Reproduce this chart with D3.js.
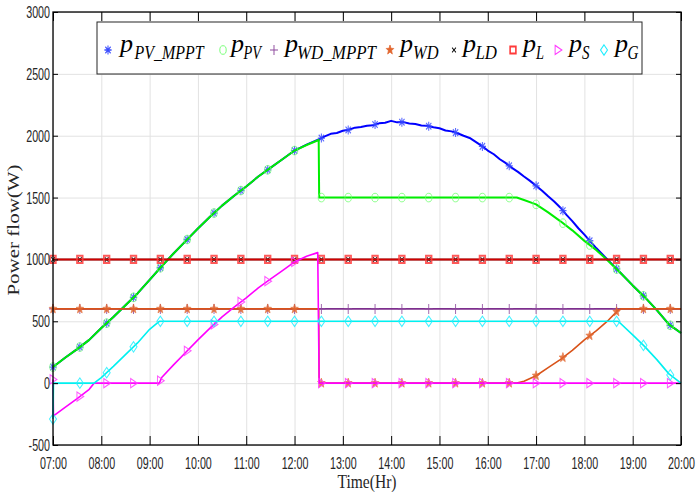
<!DOCTYPE html>
<html><head><meta charset="utf-8">
<script src="https://cdn.jsdelivr.net/npm/d3@7"></script>
<style>
html,body{margin:0;padding:0;background:#fff;}
svg{display:block;}
</style></head>
<body>
<svg id="chart" width="696" height="495"></svg>
<script>
// ---------------- data ----------------
const xTickValues = [7,8,9,10,11,12,13,14,15,16,17,18,19,20];
const xTickLabels = ["07:00","08:00","09:00","10:00","11:00","12:00","13:00","14:00","15:00","16:00","17:00","18:00","19:00","20:00"];
const yTickValues = [-500,0,500,1000,1500,2000,2500,3000];
const yTickLabels = ["-500","0","500","1000","1500","2000","2500","3000"];

// [hour, W]
const pPvMppt = [[7,130],[7.25,205],[7.5,275],[7.75,350],[8,445],[8.25,535],[8.5,630],[8.75,725],[9,835],[9.25,945],[9.5,1050],[9.75,1150],[10,1250],[10.25,1345],[10.5,1435],[10.75,1515],[11,1590],[11.25,1670],[11.5,1740],[11.75,1810],[12,1880],[12.25,1928],[12.5,1970],[12.625,1995],[12.75,2015],[12.875,2022],[13,2040],[13.125,2048],[13.25,2065],[13.375,2070],[13.5,2080],[13.625,2085],[13.75,2100],[13.875,2105],[14,2120],[14.125,2108],[14.25,2110],[14.375,2098],[14.5,2095],[14.625,2082],[14.75,2080],[14.875,2068],[15,2060],[15.125,2042],[15.25,2035],[15.375,2020],[15.5,2000],[15.625,1982],[15.75,1950],[15.875,1918],[16,1880],[16.125,1850],[16.25,1810],[16.375,1778],[16.5,1740],[16.625,1708],[16.75,1670],[16.875,1635],[17,1595],[17.125,1555],[17.25,1510],[17.375,1468],[17.5,1420],[17.625,1362],[17.75,1310],[17.875,1252],[18,1200],[18.25,1090],[18.5,990],[18.75,890],[19,790],[19.25,695],[19.5,590],[19.75,475],[20,405]];
const pPv = [[7,130],[7.25,205],[7.5,275],[7.75,350],[8,445],[8.25,535],[8.5,630],[8.75,725],[9,835],[9.25,945],[9.5,1050],[9.75,1150],[10,1250],[10.25,1345],[10.5,1435],[10.75,1515],[11,1590],[11.25,1670],[11.5,1740],[11.75,1810],[12,1880],[12.25,1925],[12.5,1965],[12.51,1500],[16.6,1500],[16.75,1480],[17,1445],[17.25,1380],[17.5,1310],[17.75,1235],[18,1150],[18.25,1075],[18.5,985],[18.75,890],[19,790],[19.25,695],[19.5,590],[19.75,475],[20,405]];
const pWdMppt = [[7,600],[20,600]];
const pWd = [[7,600],[12.5,600],[12.51,0],[16.6,0],[16.75,15],[17,60],[17.25,125],[17.5,190],[17.75,265],[18,350],[18.25,425],[18.5,510],[18.7,590],[18.75,600],[20,600]];
const pLd = [[7,1000],[20,1000]];
const pL = [[7,1000],[20,1000]];
const pS = [[7,30],[7.01,-265],[7.25,-195],[7.5,-125],[7.75,-50],[7.85,0],[9.2,0],[9.25,45],[9.5,150],[9.75,250],[10,350],[10.25,445],[10.5,535],[10.75,615],[11,690],[11.25,770],[11.5,840],[11.75,910],[12,980],[12.25,1025],[12.48,1055],[12.51,0],[20,0]];
const pG = [[7,-290],[7.01,0],[7.85,0],[8,45],[8.25,135],[8.5,230],[8.75,325],[9,435],[9.2,500],[18.7,500],[19,390],[19.25,295],[19.5,190],[19.75,75],[20,0]];

const legendMain = ["p","p","p","p","p","p","p","p"];
const legendSub = ["PV_MPPT","PV","WD_MPPT","WD","LD","L","S","G"];

// ---------------- layout ----------------
const svg = d3.select("#chart");
const L = 53, R = 681, T = 12, B = 445;
const x = d3.scaleLinear().domain([7,20]).range([L,R]);
const y = d3.scaleLinear().domain([-500,3000]).range([B,T]);
const SQ = 0.8; // horizontal squeeze of glyphs/markers

// grid
svg.append("g").attr("transform",`translate(0,${B})`)
  .call(d3.axisBottom(x).tickValues(xTickValues).tickSize(-(B-T)).tickFormat(""))
  .call(g=>g.select(".domain").remove())
  .call(g=>g.selectAll("line").attr("stroke","#e2e2e2").attr("stroke-width",1));
svg.append("g").attr("transform",`translate(${L},0)`)
  .call(d3.axisLeft(y).tickValues(yTickValues).tickSize(-(R-L)).tickFormat(""))
  .call(g=>g.select(".domain").remove())
  .call(g=>g.selectAll("line").attr("stroke","#e2e2e2").attr("stroke-width",1));

// markers
function starPath(ro, ri){
  let p = "";
  for(let k=0;k<10;k++){
    const r = k%2 ? ri : ro;
    const a = (-90 + k*36) * Math.PI/180;
    p += (k?"L":"M") + (r*Math.cos(a)).toFixed(2) + "," + (r*Math.sin(a)).toFixed(2);
  }
  return p + "Z";
}
const MK = {
  asterisk: "M0,-4.5V4.5M-4.5,0H4.5M-3.3,-3.3L3.3,3.3M-3.3,3.3L3.3,-3.3",
  circle: "M-4,0a4,4.3 0 1,0 8,0a4,4.3 0 1,0 -8,0",
  plus: "M0,-5V5M-5,0H5",
  star: starPath(5,2.1),
  times: "M-2.4,-2.4L2.4,2.4M-2.4,2.4L2.4,-2.4",
  square: "M-3.6,-3.6H3.6V3.6H-3.6Z",
  tri: "M-3.6,-4.6L4.8,0L-3.6,4.6Z",
  diamond: "M0,-5.2L4.4,0L0,5.2L-4.4,0Z"
};

const series = [
  {data:pPvMppt, color:"#0000ff", w:2,   mk:"asterisk", mc:"#3a4cff", mf:"none", mw:1.3},
  {data:pPv,     color:"#00ee00", w:2,   mk:"circle",   mc:"#6cff6c", mf:"none", mw:1},
  {data:pWdMppt, color:"#7e2f8e", w:1.6, mk:"plus",     mc:"#8e4a9e", mf:"none", mw:1.2},
  {data:pWd,     color:"#d95319", w:1.6, mk:"star",     mc:"#e2662e", mf:"#e2662e", mw:0.8},
  {data:pLd,     color:"#000000", w:1.5, mk:"times",    mc:"#000000", mf:"none", mw:1.1},
  {data:pL,      color:"#d00000", w:2,   mk:"square",   mc:"#ff3b3b", mf:"none", mw:2},
  {data:pS,      color:"#ff00ff", w:1.6, mk:"tri",      mc:"#ff3cff", mf:"none", mw:1.2},
  {data:pG,      color:"#00f0f0", w:1.6, mk:"diamond",  mc:"#22eeff", mf:"none", mw:1.2}
];

function valueAt(data, t){
  if(t <= data[0][0]) return data[0][1];
  for(let i=0;i<data.length-1;i++){
    const a=data[i], b=data[i+1];
    if(t>=a[0] && t<=b[0]) return a[1] + (b[1]-a[1])*(t-a[0])/(b[0]-a[0]);
  }
  return data[data.length-1][1];
}
const markerTimes = d3.range(24).map(k => 7 + k*5/9);

const line = d3.line().x(d=>x(d[0])).y(d=>y(d[1]));
const plot = svg.append("g");
series.forEach(s=>{
  const g = plot.append("g");
  g.append("path").attr("d", line(s.data)).attr("fill","none")
    .attr("stroke", s.color).attr("stroke-width", s.w).attr("stroke-linejoin","round");
  g.selectAll("path.mk").data(markerTimes).join("path").attr("class","mk")
    .attr("d", MK[s.mk])
    .attr("transform", t=>`translate(${x(t)},${y(valueAt(s.data,t))}) scale(${SQ},1)`)
    .attr("fill", s.mf).attr("stroke", s.mc).attr("stroke-width", s.mw).attr("opacity",0.85);
});

// axes
const tickCol = "#262626";
const xb = svg.append("g").attr("transform",`translate(0,${B})`)
  .call(d3.axisBottom(x).tickValues(xTickValues).tickSize(-9).tickSizeOuter(0).tickPadding(12)
        .tickFormat((d,i)=>xTickLabels[i]));
const yl = svg.append("g").attr("transform",`translate(${L},0)`)
  .call(d3.axisLeft(y).tickValues(yTickValues).tickSize(-5).tickSizeOuter(0).tickPadding(3)
        .tickFormat((d,i)=>yTickLabels[i]));
svg.append("g").attr("transform",`translate(0,${T})`)
  .call(d3.axisTop(x).tickValues(xTickValues).tickSize(-9).tickSizeOuter(0).tickFormat(""));
svg.append("g").attr("transform",`translate(${R},0)`)
  .call(d3.axisRight(y).tickValues(yTickValues).tickSize(-5).tickSizeOuter(0).tickFormat(""));
svg.selectAll(".domain").remove();
[xb,yl].forEach(g=>g.selectAll("text").attr("font-family","'Liberation Sans',Arial,sans-serif")
   .attr("font-size",17).attr("fill",tickCol));
xb.selectAll("text").attr("transform",`scale(0.63,1)`);
yl.selectAll("text").attr("x",-3/0.63).attr("transform",`scale(0.63,1)`);
svg.append("rect").attr("x",L).attr("y",T).attr("width",R-L).attr("height",B-T)
  .attr("fill","none").attr("stroke","#000").attr("stroke-width",1.3);

// axis titles
svg.append("text").attr("transform",`translate(367,488) scale(0.82,1)`)
  .attr("text-anchor","middle").attr("font-family","'Liberation Serif','Times New Roman',serif")
  .attr("font-size",19).attr("fill",tickCol).text("Time(Hr)");
svg.append("text").attr("transform",`translate(18.5,230) scale(0.78,1) rotate(-90)`)
  .attr("text-anchor","middle").attr("font-family","'Liberation Serif','Times New Roman',serif")
  .attr("font-size",21).attr("fill",tickCol).text("Power flow(W)");

// legend
const lg = svg.append("g");
lg.append("rect").attr("x",97).attr("y",22).attr("width",545).attr("height",52)
  .attr("fill","#fff").attr("stroke","#262626").attr("stroke-width",1);
const legMarkX = [108,223,274,390,454,513,558,604];
const legPX = [120,231,285,400,463,523,569,615];
const legSubX = [134.5,243.5,297,413,475.5,536,582,627.5];
const legSubW = [69,17.5,79,25.5,21.5,8,7.5,11];
series.forEach((s,i)=>{
  lg.append("path").attr("d", MK[s.mk])
    .attr("transform",`translate(${legMarkX[i]},50) scale(${SQ},1)`)
    .attr("fill", s.mf).attr("stroke", s.mc).attr("stroke-width", s.mw);
  lg.append("text").attr("x",legPX[i]).attr("y",51.5)
    .attr("font-family","'Liberation Serif','Times New Roman',serif").attr("font-style","italic")
    .attr("font-size",26).attr("fill","#000").text(legendMain[i]);
  lg.append("text").attr("x",legSubX[i]).attr("y",59)
    .attr("font-family","'Liberation Serif','Times New Roman',serif").attr("font-style","italic")
    .attr("font-size",18).attr("fill","#000")
    .attr("textLength",legSubW[i]).attr("lengthAdjust","spacingAndGlyphs").text(legendSub[i]);
});
</script>
</body></html>
